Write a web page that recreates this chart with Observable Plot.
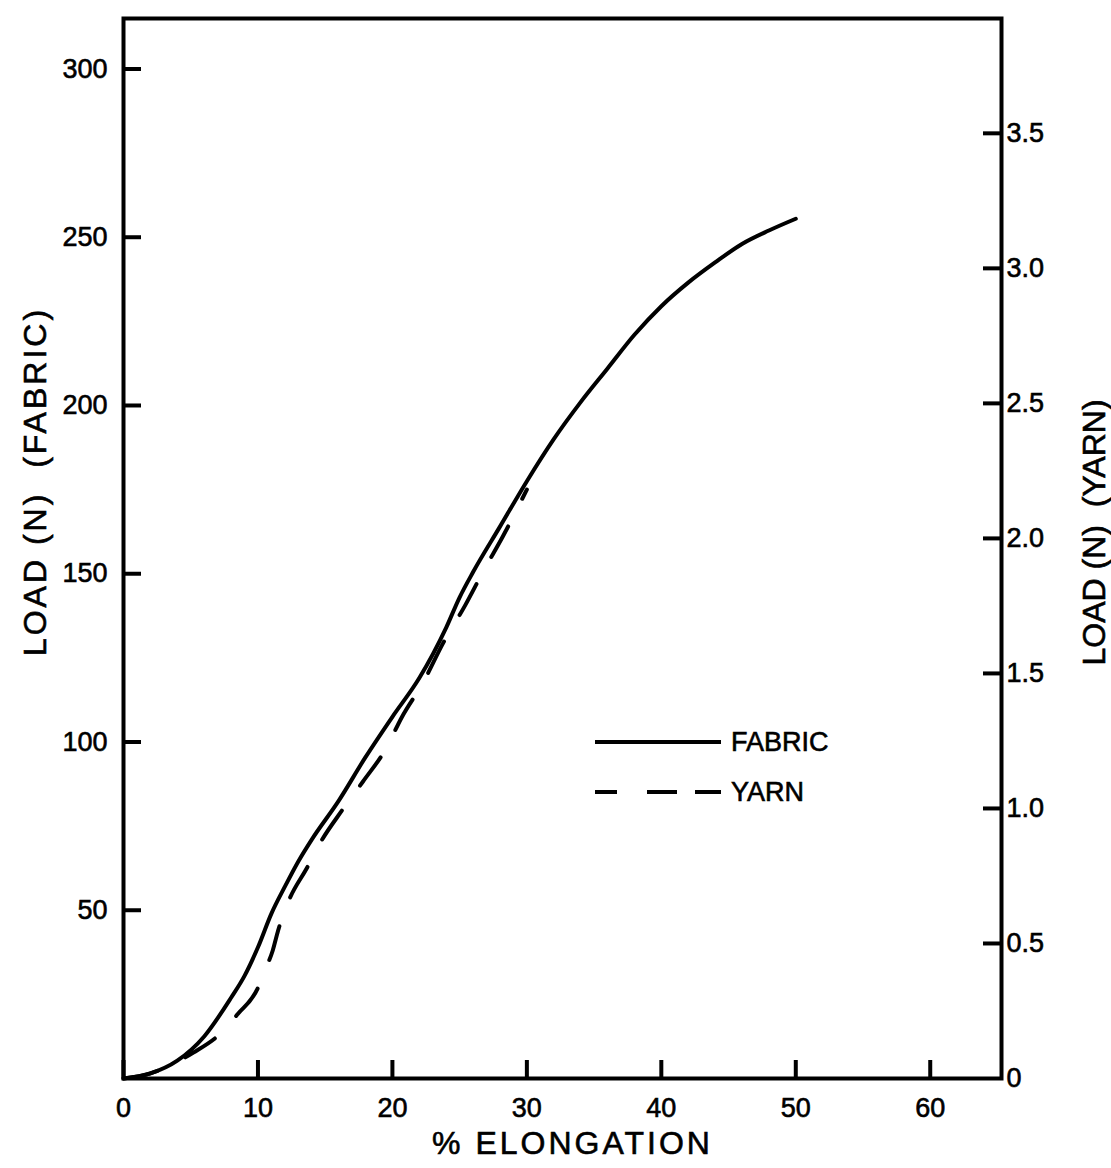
<!DOCTYPE html>
<html>
<head>
<meta charset="utf-8">
<script src="https://cdn.jsdelivr.net/npm/d3@7"></script>
<script src="https://cdn.jsdelivr.net/npm/@observablehq/plot@0.6"></script>
<style>
  html, body { margin: 0; padding: 0; background: white; }
  #wrap { position: relative; width: 1111px; height: 1168px; font-family: "Liberation Sans", Arial, Helvetica, sans-serif; }
  #chart svg text { stroke: black; stroke-width: 0.6px; }
  #legend { position: absolute; left: 593px; top: 726px; }
  .row { display: flex; align-items: center; height: 32px; margin-bottom: 18px; }
  .row svg { display: block; }
  .row span { font-size: 27px; margin-left: 8px; color: black; line-height: 1; -webkit-text-stroke: 0.6px black; }
</style>
</head>
<body>
<div id="wrap">
  <div id="chart"></div>
  <div id="legend"></div>
</div>
<script>
// ---- Data ----
const xTicks = [0, 10, 20, 30, 40, 50, 60];
const fabricTicks = [50, 100, 150, 200, 250, 300];
const yarnTicks = [0, 0.5, 1.0, 1.5, 2.0, 2.5, 3.0, 3.5];

// Fabric curve: % elongation vs load (N)
const fabricX    = [0, 2, 4, 6, 8, 9, 10, 11, 12, 13, 14, 16, 18, 20, 22, 24, 25, 26, 28, 30, 32, 34, 36, 38, 40, 42, 44, 46, 48, 50];
const fabricLoad = [0, 1.5, 5.3, 12.5, 24, 30.5, 39, 49, 57, 64.5, 71, 82.5, 95.5, 107.5, 119, 134, 143, 150.5, 164, 177.5, 190, 201, 211, 221, 229.5, 236.5, 242.5, 248, 252, 255.5];

// Yarn curve: % elongation vs load (N) (yarn axis)
const yarnX    = [0, 2, 4, 5.2, 7.2, 8.5, 10, 10.5, 11.1, 11.5, 12.2, 13.7, 14.6, 16.3, 17.8, 19.5, 20.7, 22.3, 23.8, 25.4, 26.8, 28.2, 30];
const yarnLoad = [0, 0.019, 0.062, 0.096, 0.166, 0.239, 0.336, 0.399, 0.474, 0.548, 0.648, 0.785, 0.870, 0.996, 1.099, 1.220, 1.338, 1.468, 1.615, 1.751, 1.882, 2.006, 2.181];

const seriesNames = ["FABRIC", "YARN"];
const xLabel = "% ELONGATION";
const yLeftLabel = "LOAD (N)\u00a0\u00a0(FABRIC)";
const yRightLabel = "LOAD (N)\u00a0\u00a0(YARN)";

// yarn axis relation to fabric axis (1 N yarn on the right axis = k N fabric on the left)
const k = 80.25;

const fabric = fabricX.map((x, i) => ({x, load: fabricLoad[i]}));
const yarn = yarnX.map((x, i) => ({x, load: yarnLoad[i]}));

const W = 1111, H = 1168, mL = 123, mR = 110, mT = 18, mB = 90;
const innerW = W - mL - mR, innerH = H - mT - mB;
const tick = 18;
const font = "Liberation Sans, Arial, Helvetica, sans-serif";

const chart = Plot.plot({
  width: W, height: H,
  marginLeft: mL, marginRight: mR, marginTop: mT, marginBottom: mB,
  style: {fontFamily: font, fontSize: "27px", background: "white", color: "black"},
  x: {domain: [0, 65.3]},
  y: {domain: [0, 315]},
  marks: [
    Plot.frame({stroke: "black", strokeWidth: 4}),
    Plot.tickX(xTicks, {x: d => d, insetTop: innerH - tick, stroke: "black", strokeWidth: 4}),
    Plot.tickY(fabricTicks, {y: d => d, insetRight: innerW - tick, stroke: "black", strokeWidth: 4}),
    Plot.tickY(yarnTicks.filter(v => v > 0), {y: d => d * k, insetLeft: innerW - tick, stroke: "black", strokeWidth: 4}),
    Plot.axisX(xTicks, {anchor: "bottom", tickSize: 0, tickPadding: 19, fontSize: 27, label: null}),
    Plot.axisY(fabricTicks, {anchor: "left", tickSize: 0, tickPadding: 16, fontSize: 27, label: null}),
    Plot.axisY(yarnTicks.map(v => v * k), {anchor: "right", tickSize: 0, tickPadding: 5, fontSize: 27, label: null,
      tickFormat: d => { const v = d / k; return Math.abs(v) < 1e-9 ? "0" : v.toFixed(1); }}),
    Plot.line(fabric, {x: "x", y: "load", curve: "monotone-x", stroke: "black", strokeWidth: 4, strokeLinejoin: "round", strokeLinecap: "round"}),
    Plot.line(yarn, {x: "x", y: d => d.load * k, curve: "monotone-x", stroke: "black", strokeWidth: 4, strokeDasharray: "35,31", strokeLinecap: "round"}),
    Plot.text([xLabel], {text: d => d, frameAnchor: "bottom", dx: 10, dy: 65, fontSize: 32, textAnchor: "middle", lineAnchor: "middle"}),
    Plot.text([yLeftLabel], {text: d => d, frameAnchor: "left", dx: -88, dy: -67, rotate: -90, fontSize: 32, textAnchor: "middle", lineAnchor: "middle"}),
    Plot.text([yRightLabel], {text: d => d, frameAnchor: "right", dx: 93, dy: -16, rotate: -90, fontSize: 32, textAnchor: "middle", lineAnchor: "middle"})
  ]
});
document.getElementById("chart").appendChild(chart);

// Wider letter spacing on the two typeset axis titles
d3.select(chart).selectAll("text")
  .filter(function() { return this.textContent === xLabel || this.textContent === yLeftLabel; })
  .attr("letter-spacing", "3px")
  .style("letter-spacing", "3px");

// Legend (overlay inside plot area)
const legend = d3.select("#legend");
const dashes = [null, "22 30 30 18 27"];
seriesNames.forEach((name, i) => {
  const row = legend.append("div").attr("class", "row");
  const svg = row.append("svg").attr("width", 130).attr("height", 32);
  svg.append("line").attr("x1", 2).attr("x2", 128).attr("y1", 16).attr("y2", 16)
    .attr("stroke", "black").attr("stroke-width", 4)
    .attr("stroke-dasharray", dashes[i]);
  row.append("span").text(name);
});
</script>
</body>
</html>
